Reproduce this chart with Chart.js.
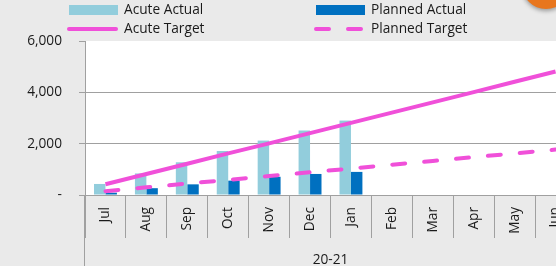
<!DOCTYPE html>
<html>
<head>
<meta charset="utf-8">
<script src="https://cdn.jsdelivr.net/npm/chart.js@4.4.1/dist/chart.umd.min.js"></script>
<style>
  html, body { margin: 0; padding: 0; background: #eaeaea; overflow: hidden; }
  #wrap { width: 578px; height: 266px; }
</style>
</head>
<body>
<div id="wrap"><canvas id="chart1" width="578" height="266"></canvas></div>
<script>
var months = ['Jul', 'Aug', 'Sep', 'Oct', 'Nov', 'Dec', 'Jan', 'Feb', 'Mar', 'Apr', 'May', 'Jun'];
var yearLabel = '20-21';
var acuteActual = [430, 840, 1275, 1715, 2120, 2510, 2900, null, null, null, null, null];
var plannedActual = [90, 265, 415, 560, 710, 820, 900, null, null, null, null, null];
var acuteTarget = [420, 820, 1220, 1620, 2010, 2410, 2810, 3210, 3610, 4010, 4410, 4810];
var plannedTarget = [150, 300, 445, 590, 740, 885, 1030, 1180, 1325, 1475, 1620, 1770];
var yTicks = [0, 2000, 4000, 6000];

var FONT = { family: "'Open Sans', sans-serif", size: 13.7 };
var TEXT = '#1a1a1a';
var GRID = '#a0a0a0';

// grey page, white plot area
var bgPlugin = {
    id: 'bg',
    beforeDraw: function(chart) {
        var c = chart.ctx, a = chart.chartArea;
        c.save();
        c.fillStyle = '#eaeaea';
        c.fillRect(0, 0, chart.width, chart.height);
        c.fillStyle = '#ffffff';
        c.fillRect(a.left, a.top, a.right - a.left, a.bottom - a.top);
        c.restore();
    }
};

// two column legend + the long left separator + orange badge
var extrasPlugin = {
    id: 'extras',
    afterDraw: function(chart) {
        var c = chart.ctx, a = chart.chartArea;
        var ds = chart.data.datasets;
        c.save();

        // left separator of the category axis
        c.strokeStyle = GRID;
        c.lineWidth = 1;
        c.beginPath();
        c.moveTo(Math.round(a.left) - 0.5, a.bottom);
        c.lineTo(Math.round(a.left) - 0.5, chart.height);
        c.stroke();

        c.font = FONT.size + 'px ' + FONT.family;
        c.fillStyle = TEXT;
        c.textBaseline = 'middle';
        var cols = [69, 316];
        var rows = [10, 29];
        for (var i = 0; i < ds.length; i++) {
            var x = cols[i % 2], y = rows[Math.floor(i / 2)];
            if (ds[i].type === 'line') {
                c.strokeStyle = ds[i].borderColor;
                c.lineWidth = ds[i].borderWidth;
                c.lineCap = 'round';
                c.setLineDash(ds[i].borderDash || []);
                c.beginPath();
                c.moveTo(x, y);
                c.lineTo(x + 47, y);
                c.stroke();
                c.setLineDash([]);
            } else {
                c.fillStyle = ds[i].backgroundColor;
                c.fillRect(x, y - 5, 49, 10);
            }
            c.fillStyle = TEXT;
            c.fillText(ds[i].label, x + 55, y);
        }

        // orange circle peeking in at the top right
        c.shadowColor = 'rgba(0,0,0,0.35)';
        c.shadowBlur = 4;
        c.shadowOffsetY = 2;
        c.fillStyle = '#e8761e';
        c.beginPath();
        c.arc(546, -15, 24, 0, Math.PI * 2);
        c.fill();
        c.restore();
    }
};

var ct1 = document.getElementById('chart1').getContext('2d');
var chart1 = new Chart(ct1, {
    type: 'bar',
    data: {
        labels: months,
        datasets: [{
            label: 'Acute Actual',
            data: acuteActual,
            backgroundColor: '#92cddc',
            categoryPercentage: 0.56,
            barPercentage: 1.0,
            order: 2
        }, {
            label: 'Planned Actual',
            data: plannedActual,
            backgroundColor: '#0070c0',
            categoryPercentage: 0.56,
            barPercentage: 1.0,
            order: 2
        }, {
            type: 'line',
            label: 'Acute Target',
            data: acuteTarget,
            borderColor: '#f050d9',
            borderWidth: 4,
            pointRadius: 0,
            tension: 0,
            order: 0
        }, {
            type: 'line',
            label: 'Planned Target',
            data: plannedTarget,
            borderColor: '#f050d9',
            borderWidth: 4,
            borderDash: [13, 19],
            borderCapStyle: 'round',
            pointRadius: 0,
            tension: 0,
            order: 1
        }]
    },
    options: {
        responsive: false,
        animation: false,
        layout: { padding: { top: 41, left: 0, right: 2, bottom: 0 } },
        plugins: {
            legend: { display: false },
            tooltip: { enabled: false }
        },
        scales: {
            x: {
                grid: {
                    offset: true,
                    drawOnChartArea: false,
                    drawTicks: true,
                    tickLength: 43,
                    color: GRID
                },
                border: { color: GRID },
                ticks: {
                    minRotation: 90,
                    maxRotation: 90,
                    autoSkip: false,
                    padding: -31,
                    color: TEXT,
                    font: FONT
                },
                title: {
                    display: true,
                    text: yearLabel,
                    color: TEXT,
                    font: FONT,
                    padding: { top: 0, bottom: -2 }
                },
                afterFit: function(scale) { scale.height = 71; }
            },
            y: {
                min: 0,
                max: 6000,
                afterBuildTicks: function(scale) {
                    scale.ticks = yTicks.map(function(v) { return { value: v }; });
                },
                grid: {
                    color: function(ctx) { return ctx.tick && ctx.tick.value === 6000 ? 'rgba(0,0,0,0)' : GRID; },
                    tickColor: GRID,
                    tickLength: 6
                },
                border: { color: GRID },
                ticks: {
                    padding: 17,
                    color: TEXT,
                    font: FONT,
                    callback: function(v) { return v === 0 ? '-' : v.toLocaleString('en-US'); }
                },
                afterFit: function(scale) { scale.width = 85; }
            }
        }
    },
    plugins: [bgPlugin, extrasPlugin]
});
</script>
</body>
</html>
